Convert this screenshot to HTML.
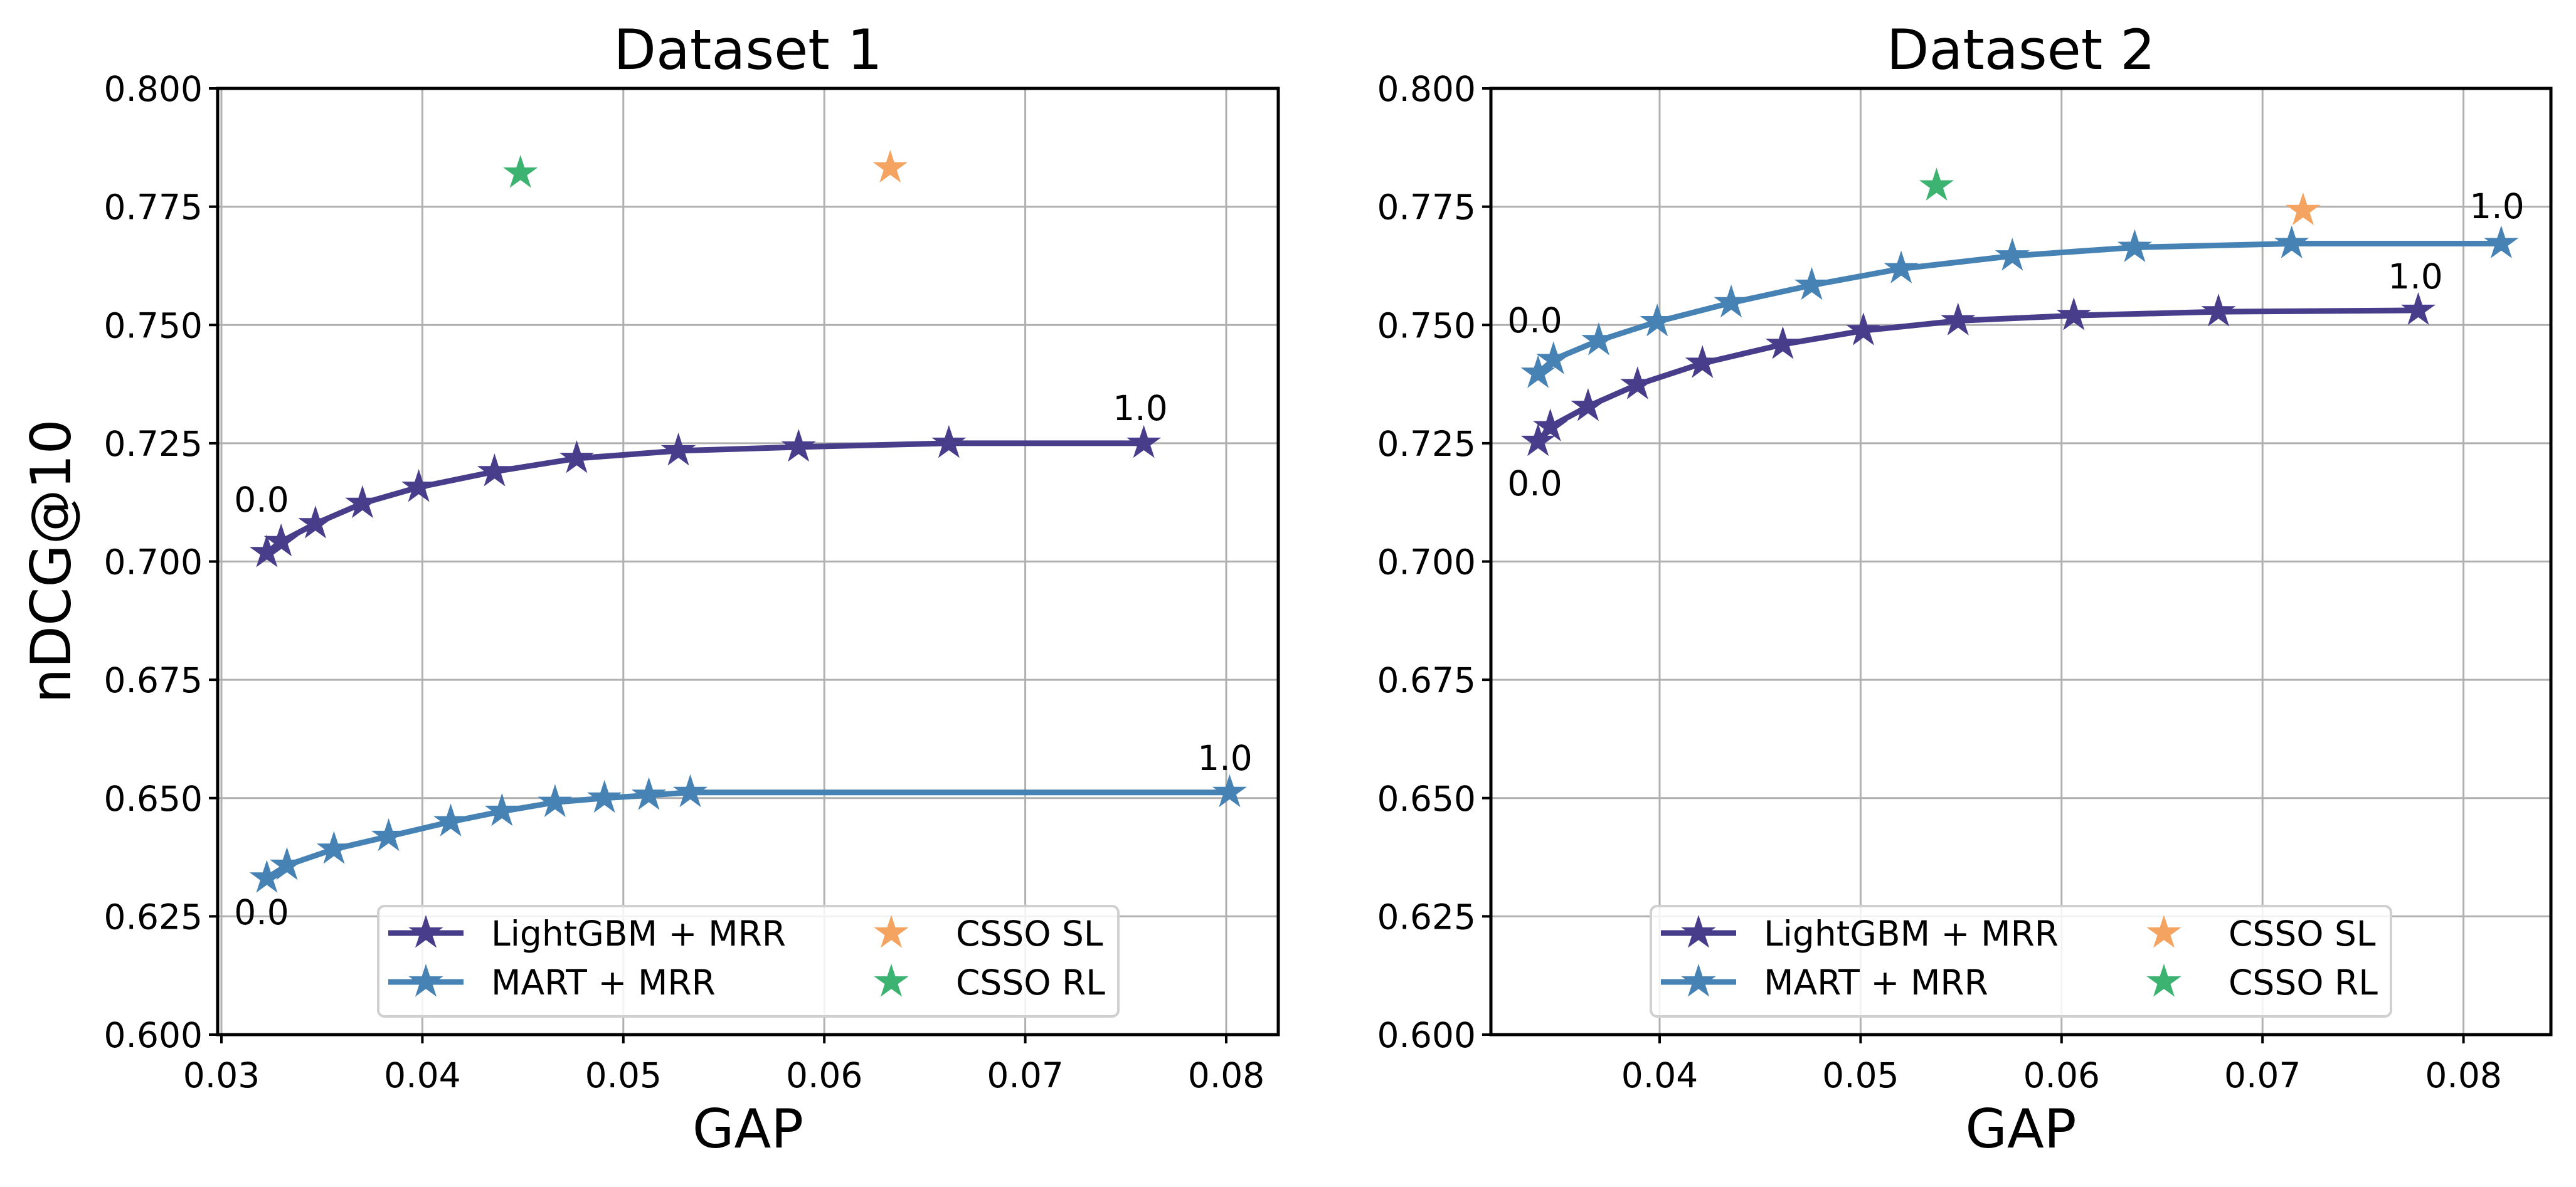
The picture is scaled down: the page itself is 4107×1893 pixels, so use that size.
<!DOCTYPE html>
<html><head><meta charset="utf-8"><style>
html,body{margin:0;padding:0;background:#fff;}
svg{display:block;font-family:"DejaVu Sans","Liberation Sans",sans-serif;}
</style></head><body>
<svg id="chart" width="4107" height="1893" viewBox="0 0 4107 1893" xmlns="http://www.w3.org/2000/svg"></svg>
<script>
// Dataset 1
const d1LgbX = [0.03226,0.03297,0.03468,0.03702,0.03982,0.04359,0.04768,0.05274,0.05872,0.0662,0.0759];
const d1LgbY = [0.7019,0.7042,0.708,0.7123,0.7157,0.719,0.7218,0.7234,0.7242,0.725,0.725];
const d1MartX = [0.03226,0.03326,0.0356,0.03832,0.04141,0.04396,0.0466,0.04906,0.05127,0.05333,0.08017];
const d1MartY = [0.6331,0.6358,0.6392,0.6419,0.645,0.6472,0.6491,0.65,0.6506,0.6512,0.6512];
const d1SL = [0.06328,0.7832];
const d1RL = [0.04488,0.7821];
// Dataset 2
const d2LgbX = [0.03395,0.03456,0.03644,0.0389,0.04213,0.04613,0.05014,0.05485,0.06061,0.06781,0.07775];
const d2LgbY = [0.7254,0.7285,0.7328,0.7374,0.7419,0.7459,0.7488,0.7509,0.752,0.7528,0.7531];
const d2MartX = [0.03395,0.03472,0.03697,0.03988,0.04356,0.04757,0.05202,0.05755,0.06364,0.07145,0.08188];
const d2MartY = [0.7398,0.7427,0.7467,0.7507,0.7547,0.7584,0.7619,0.7646,0.7664,0.7672,0.7672];
const d2SL = [0.07202,0.7742];
const d2RL = [0.05378,0.7794];
const yTicks = [0.600,0.625,0.650,0.675,0.700,0.725,0.750,0.775,0.800];
const xTicks1 = [0.03,0.04,0.05,0.06,0.07,0.08];
const xTicks2 = [0.04,0.05,0.06,0.07,0.08];

const NS='http://www.w3.org/2000/svg';
const svg=document.getElementById('chart');
const PURPLE='#483d8b', BLUE='#4682b4', ORANGE='#f4a460', GREEN='#3cb371';
function mk(tag,attrs,parent){const e=document.createElementNS(NS,tag);for(const k in attrs)e.setAttribute(k,attrs[k]);(parent||svg).appendChild(e);return e;}
function starPath(cx,cy,R){let d='';const r=R*0.382;for(let i=0;i<10;i++){const a=-Math.PI/2+i*Math.PI/5;const rr=i%2?r:R;d+=(i?'L':'M')+(cx+rr*Math.cos(a)).toFixed(1)+','+(cy+rr*Math.sin(a)).toFixed(1);}return d+'Z';}

function panel(cfg){
  const g=mk('g',{});
  
  
  const sx=v=>cfg.x0px+(v-cfg.x0)*32040;
  const sy=v=>141+(0.8-v)*(1509/0.2);
  yTicks.forEach(t=>{const l=mk('line',{x1:cfg.left,x2:cfg.right,y1:sy(t),y2:sy(t),stroke:'#b0b0b0','stroke-width':3},g);
    });
  cfg.xt.forEach(t=>{const l=mk('line',{x1:sx(t),x2:sx(t),y1:141,y2:1650,stroke:'#b0b0b0','stroke-width':3},g);
    });
  yTicks.forEach(t=>{mk('line',{x1:cfg.left-14,x2:cfg.left,y1:sy(t),y2:sy(t),stroke:'#000','stroke-width':4},g);
    const tx=mk('text',{x:cfg.left-24,y:sy(t)+20,'text-anchor':'end','font-size':55,fill:'#000'},g);tx.textContent=t.toFixed(3);
    });
  cfg.xt.forEach(t=>{mk('line',{x1:sx(t),x2:sx(t),y1:1650,y2:1664,stroke:'#000','stroke-width':4},g);
    const tx=mk('text',{x:sx(t),y:1734,'text-anchor':'middle','font-size':55,fill:'#000'},g);tx.textContent=t.toFixed(2);
    });
  function series(xs,ys,col,name){
    const pts=xs.map((x,i)=>sx(x).toFixed(1)+','+sy(ys[i]).toFixed(1)).join(' ');
    const pl=mk('polyline',{points:pts,fill:'none',stroke:col,'stroke-width':9,'stroke-linejoin':'round'},g);
    
    xs.forEach((x,i)=>{const p=mk('path',{d:starPath(sx(x),sy(ys[i]),29),fill:col},g);
      });
  }
  series(cfg.lx,cfg.ly,PURPLE,'lightgbm-mrr');
  series(cfg.mx,cfg.my,BLUE,'mart-mrr');
  const sl=mk('path',{d:starPath(sx(cfg.sl[0]),sy(cfg.sl[1]),29),fill:ORANGE},g);
  
  const rl=mk('path',{d:starPath(sx(cfg.rl[0]),sy(cfg.rl[1]),29),fill:GREEN},g);
  
  cfg.ann.forEach(a=>{const t=mk('text',{x:a[0],y:a[1],'text-anchor':'middle','font-size':55,fill:'#000'},g);t.textContent=a[2];
    });
  const fr=mk('rect',{x:cfg.left,y:141,width:cfg.right-cfg.left,height:1509,fill:'none',stroke:'#000','stroke-width':5},g);
  
  const L=cfg.leg;
  const lg=mk('g',{},g);
  
  mk('rect',{x:L.x,y:1445,width:L.w,height:176,rx:10,fill:'rgba(255,255,255,0.85)',stroke:'#d0d0d0','stroke-width':4},lg);
  [[1488,PURPLE,'LightGBM + MRR'],[1566,BLUE,'MART + MRR']].forEach(r=>{
    mk('line',{x1:L.x+16,x2:L.x+136,y1:r[0],y2:r[0],stroke:r[1],'stroke-width':9},lg);
    mk('path',{d:starPath(L.x+76,r[0],29),fill:r[1]},lg);
    const t=mk('text',{x:L.x+180,y:r[0]+20,'font-size':55,fill:'#000'},lg);t.textContent=r[2];
    
  });
  [[1488,ORANGE,'CSSO SL'],[1566,GREEN,'CSSO RL']].forEach(r=>{
    mk('path',{d:starPath(L.sx,r[0],29),fill:r[1]},lg);
    const t=mk('text',{x:L.sx+103,y:r[0]+20,'font-size':55,fill:'#000'},lg);t.textContent=r[2];
    
  });
  const mid=(cfg.left+cfg.right)/2;
  const ti=mk('text',{x:mid,y:110,'text-anchor':'middle','font-size':88,fill:'#000'},g);ti.textContent=cfg.title;
  
  const xl=mk('text',{x:mid,y:1830,'text-anchor':'middle','font-size':86,fill:'#000'},g);xl.textContent='GAP';
  
}
panel({name:'dataset-1-panel',title:'Dataset 1',left:347,right:2038,x0:0.03,x0px:353,xt:xTicks1,
  lx:d1LgbX,ly:d1LgbY,mx:d1MartX,my:d1MartY,sl:d1SL,rl:d1RL,
  ann:[[417,816,'0.0'],[417,1474,'0.0'],[1818,670,'1.0'],[1953,1228,'1.0']],
  leg:{x:603,w:1180,sx:1421}});
panel({name:'dataset-2-panel',title:'Dataset 2',left:2377,right:4067,x0:0.04,x0px:2646,xt:xTicks2,
  lx:d2LgbX,ly:d2LgbY,mx:d2MartX,my:d2MartY,sl:d2SL,rl:d2RL,
  ann:[[2447,790,'0.0'],[2447,530,'0.0'],[3851,460,'1.0'],[3981,348,'1.0']],
  leg:{x:2632,w:1180,sx:3450}});
const yl=mk('text',{x:0,y:0,'text-anchor':'middle','font-size':88,fill:'#000',transform:'translate(112,895) rotate(-90)'});
yl.textContent='nDCG@10';


</script>
</body></html>
